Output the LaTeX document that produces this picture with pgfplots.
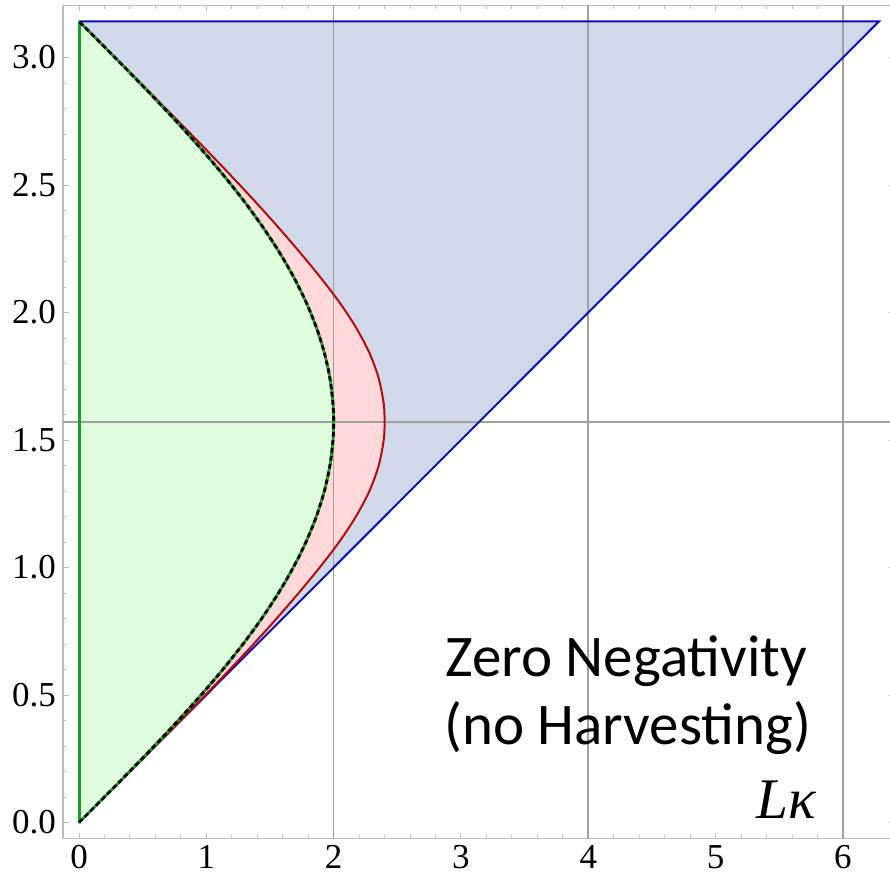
\documentclass[border=0pt]{standalone}
\usepackage{fontspec}
\setmainfont{Liberation Serif}
\newfontfamily\carlito{Carlito}
\usepackage{pgfplots}
\usepackage{pgfplotstable}
\pgfplotsset{compat=1.18}

\definecolor{regionblue}{RGB}{208,217,234}
\definecolor{edgeblue}{RGB}{16,16,176}
\definecolor{regiongreen}{RGB}{224,252,224}
\definecolor{edgegreen}{RGB}{30,160,30}
\definecolor{regionred}{RGB}{255,217,217}
\definecolor{edgered}{RGB}{180,10,10}
\definecolor{gridgray}{RGB}{160,160,160}
\definecolor{framegray}{RGB}{190,190,190}

% boundary of the zero-negativity region (Lk against angle)
\pgfplotstableread{
x      y
0      0
0.1997 0.1
0.3973 0.2
0.5910 0.3
0.7788 0.4
0.9589 0.5
1.1293 0.6
1.2884 0.7
1.4347 0.8
1.5667 0.9
1.6829 1.0
1.7824 1.1
1.8641 1.2
1.9271 1.3
1.9709 1.4
1.9950 1.5
2.0000 1.5708
1.9950 1.6416
1.9709 1.7416
1.9271 1.8416
1.8641 1.9416
1.7824 2.0416
1.6829 2.1416
1.5667 2.2416
1.4347 2.3416
1.2884 2.4416
1.1293 2.5416
0.9589 2.6416
0.7788 2.7416
0.5910 2.8416
0.3973 2.9416
0.1997 3.0416
0      3.1416
}\greencurve

% outer boundary (red)
\pgfplotstableread{
x      y
0      0
0.2000 0.1
0.3998 0.2
0.5990 0.3
0.7968 0.4
0.9925 0.5
1.1845 0.6
1.3715 0.7
1.5520 0.8
1.7250 0.9
1.8900 1.0
2.0430 1.1
2.1750 1.2
2.2810 1.3
2.3540 1.4
2.3934 1.5
2.4000 1.5708
2.3934 1.6416
2.3540 1.7416
2.2810 1.8416
2.1750 1.9416
2.0430 2.0416
1.8900 2.1416
1.7250 2.2416
1.5520 2.3416
1.3715 2.4416
1.1845 2.5416
0.9925 2.6416
0.7968 2.7416
0.5990 2.8416
0.3998 2.9416
0.2000 3.0416
0      3.1416
}\redcurve

\begin{document}
\begin{tikzpicture}
\begin{axis}[
  name=ax,
  scale only axis,
  width=416.0pt, height=416.57pt,
  xmin=-0.1257, xmax=6.4089,
  ymin=-0.0628, ymax=3.2044,
  axis line style={framegray, line width=0.6pt},
  xtick={0,1,2,3,4,5,6},
  ytick={0,0.5,1,1.5,2,2.5,3},
  minor x tick num=4,
  minor y tick num=4,
  tick align=inside,
  major tick length=3pt,
  minor tick length=1.6pt,
  every tick/.style={framegray, line width=0.5pt},
  /pgf/number format/assume math mode=true,
  yticklabel style={/pgf/number format/fixed, /pgf/number format/fixed zerofill,
    /pgf/number format/precision=1},
  ticklabel style={font=\fontsize{17.5}{20}\selectfont, text=black},
  clip=true,
]
% fills
\addplot[fill=regionblue, draw=none] coordinates {(0,0) (6.2832,3.1416) (0,3.1416)} -- cycle;
\addplot[fill=regionred, draw=none, smooth] table {\redcurve} -- cycle;
\addplot[fill=regiongreen, draw=none, smooth] table {\greencurve} -- cycle;
% grid
\addplot[gridgray, line width=0.8pt] coordinates {(2,-0.1) (2,3.3)};
\addplot[gridgray, line width=0.8pt] coordinates {(4,-0.1) (4,3.3)};
\addplot[gridgray, line width=0.8pt] coordinates {(6,-0.1) (6,3.3)};
\addplot[gridgray, line width=0.8pt] coordinates {(-0.2,1.5708) (6.5,1.5708)};
% boundaries
\addplot[edgeblue, line width=1pt] coordinates {(0,0) (6.2832,3.1416) (0,3.1416)};
\addplot[edgered, line width=1pt, smooth] table {\redcurve};
\addplot[edgegreen, line width=1.5pt] coordinates {(0,0) (0,3.1416)};
\addplot[edgegreen, line width=1.4pt, smooth] table {\greencurve};
\addplot[black, line width=1.4pt, dash pattern=on 2.4pt off 1.6pt, smooth] table {\greencurve};
% annotations
\node[font=\carlito\fontsize{29.5}{34}\selectfont, anchor=base] at (axis cs:4.30,0.5745) {Zero Negativity};
\node[font=\carlito\fontsize{29.5}{34}\selectfont, anchor=base] at (axis cs:4.31,0.304) {(no Harvesting)};
\node[font=\fontsize{28.7}{30}\selectfont\itshape, anchor=base east, inner sep=0pt] at (axis cs:5.794,0.0176) {Lκ};
\end{axis}
\pgfresetboundingbox
\path[use as bounding box] ([shift={(-31.5pt,-21.75pt)}]ax.south west) rectangle ([shift={(413.5pt,2.7pt)}]ax.north west);
\end{tikzpicture}
\end{document}
